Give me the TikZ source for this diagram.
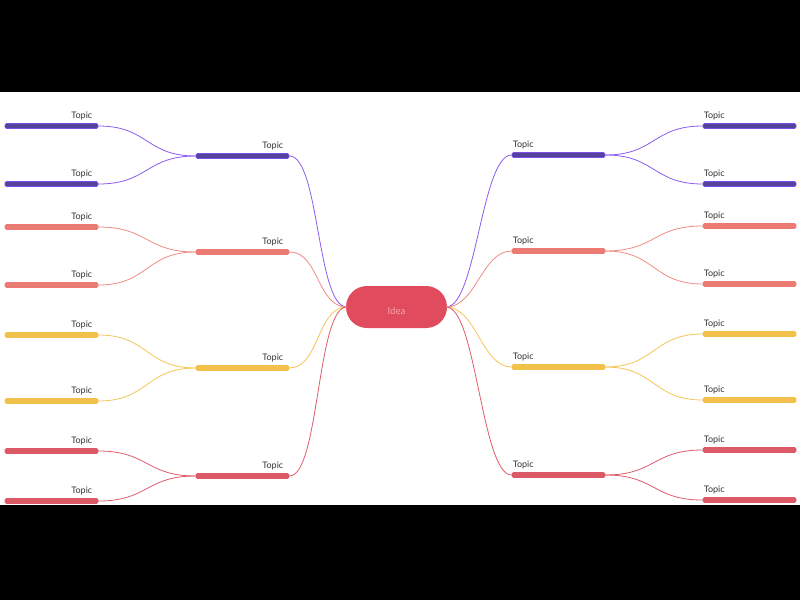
\documentclass[tikz,border=0pt]{standalone}
\usepackage{fontspec}
\setmainfont{Lato}
\definecolor{cpl}{HTML}{8C5CF0}
\definecolor{cpb}{HTML}{54439A}
\definecolor{cpd}{HTML}{7A4EE6}
\definecolor{csl}{HTML}{EE8C84}
\definecolor{csb}{HTML}{EC7B74}
\definecolor{cyl}{HTML}{F4C458}
\definecolor{cyb}{HTML}{F2C14C}
\definecolor{crl}{HTML}{E05A6A}
\definecolor{crb}{HTML}{DC5A67}
\definecolor{cidea}{HTML}{E04B5E}
\definecolor{cideatxt}{HTML}{F7A8B0}
\definecolor{ctxt}{HTML}{333333}
\begin{document}
\begin{tikzpicture}[x=1pt,y=-1pt,
  bar/.style={rectangle, inner sep=0pt, minimum width=93pt, minimum height=5pt, rounded corners=1.5pt, line width=0.8pt},
  lbl/.style={font=\fontsize{9}{10}\selectfont, text=ctxt, inner sep=0pt},
  link/.style={line width=0.8pt},
  idea/.style={rectangle, rounded corners=21pt, fill=cidea, minimum width=101pt, minimum height=42pt, inner sep=0pt, text height=14pt, text depth=0pt, text=cideatxt, font=\fontsize{9.5}{10}\selectfont}]
\useasboundingbox (0,0) rectangle (800,600);
\fill[black] (0,0) rectangle (800,92);
\fill[black] (0,505) rectangle (800,600);
\node[idea] (c) at (396.5,307) {Idea};
% left side
\foreach \n/\ln/\bb/\bd/\ya/\yb/\yc in {lp/cpl/cpb/cpd/156/126/184, ls/csl/csb/csb/252/227/285, ly/cyl/cyb/cyb/368/335/401, lr/crl/crb/crb/476/451/501}{
  \node[bar, fill=\bb, draw=\bd] (\n) at (242.5,\ya) {};
  \node[bar, fill=\bb, draw=\bd] (\n a) at (51.5,\yb) {};
  \node[bar, fill=\bb, draw=\bd] (\n b) at (51.5,\yc) {};
  \node[lbl, anchor=base east] (\n t) at ([shift={(-6,-5)}]\n.north east) {Topic};
  \node[lbl, anchor=base east] (\n at) at ([shift={(-6,-5)}]\n a.north east) {Topic};
  \node[lbl, anchor=base east] (\n bt) at ([shift={(-6,-5)}]\n b.north east) {Topic};
  \draw[link, \ln] ([xshift=1pt]c.west) .. controls +(-30,0) and +(30,0) .. (\n.east);
  \draw[link, \ln] (\n.west) .. controls +(-50,0) and +(50,0) .. (\n a.east);
  \draw[link, \ln] (\n.west) .. controls +(-50,0) and +(50,0) .. (\n b.east);
}
% right side
\foreach \n/\ln/\bb/\bd/\ya/\yb/\yc in {rp/cpl/cpb/cpd/155/126/184, rs/csl/csb/csb/251/226/284, ry/cyl/cyb/cyb/367/334/400, rr/crl/crb/crb/475/450/500}{
  \node[bar, fill=\bb, draw=\bd] (\n) at (558.5,\ya) {};
  \node[bar, fill=\bb, draw=\bd] (\n a) at (749.5,\yb) {};
  \node[bar, fill=\bb, draw=\bd] (\n b) at (749.5,\yc) {};
  \node[lbl, anchor=base west] (\n t) at ([shift={(1,-5)}]\n.north west) {Topic};
  \node[lbl, anchor=base west] (\n at) at ([shift={(1,-5)}]\n a.north west) {Topic};
  \node[lbl, anchor=base west] (\n bt) at ([shift={(1,-5)}]\n b.north west) {Topic};
  \draw[link, \ln] ([xshift=-1pt]c.east) .. controls +(30,0) and +(-30,0) .. (\n.west);
  \draw[link, \ln] (\n.east) .. controls +(50,0) and +(-50,0) .. (\n a.west);
  \draw[link, \ln] (\n.east) .. controls +(50,0) and +(-50,0) .. (\n b.west);
}
\end{tikzpicture}
\end{document}
